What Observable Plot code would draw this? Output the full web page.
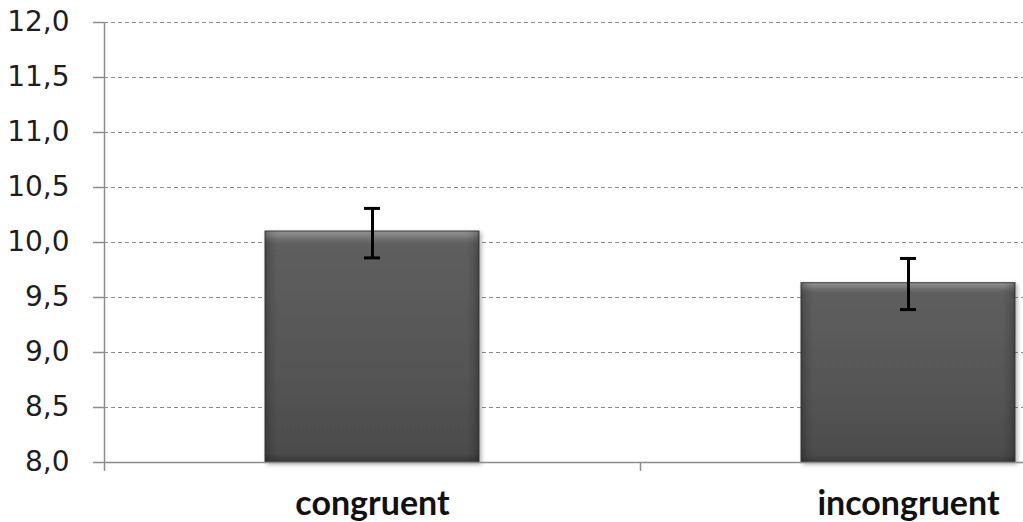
<!DOCTYPE html>
<html><head><meta charset="utf-8">
<script src="https://cdn.jsdelivr.net/npm/d3@7"></script>
<script src="https://cdn.jsdelivr.net/npm/@observablehq/plot@0.6"></script>
<style>
html,body{margin:0;padding:0;background:#fff;overflow:hidden;width:1023px;height:522px;}
</style>
</head><body>
<div id="chart"></div>
<script>
const categories = ["congruent", "incongruent"];
const means = [10.10, 9.63];
const errLow = [9.86, 9.39];
const errHigh = [10.31, 9.855];
const yTicks = [8.0, 8.5, 9.0, 9.5, 10.0, 10.5, 11.0, 11.5, 12.0];

const data = categories.map((c, i) => ({cat: c, mean: means[i], lo: errLow[i], hi: errHigh[i]}));
const fmt = d => d3.format(".1f")(d).replace(".", ",");

const chart = Plot.plot({
  width: 1023,
  height: 522,
  marginLeft: 104,
  marginTop: 22,
  marginBottom: 60,
  marginRight: 0,
  style: {background: "#fff", overflow: "hidden"},
  x: {domain: categories, range: [104, 1176], paddingInner: 0.6, paddingOuter: 0.3, axis: null},
  y: {domain: [8, 12], axis: null},
  marks: [
    Plot.ruleY(yTicks.filter(d => d > 8), {stroke: "#8c8c8c", strokeWidth: 1, strokeDasharray: "4,3"}),
    Plot.barY(data, {x: "cat", y1: 8, y2: "mean", fill: "url(#barGrad)", stroke: "#3c3c3c", strokeWidth: 1}),
    Plot.barY(data, {x: "cat", y1: 8, y2: "mean", fill: "url(#sideGrad)"}),
    Plot.ruleY([8], {stroke: "#8c8c8c", strokeWidth: 1.5}),
    Plot.ruleX(categories, {x: d => d, dx: -268, y1: 8, y2: 7.92, stroke: "#8c8c8c", strokeWidth: 1.5}),
    Plot.ruleX([categories[0]], {x: d => d, dx: -268, y1: 12, y2: 8, stroke: "#8c8c8c", strokeWidth: 1.5}),
    Plot.ruleX(data, {x: "cat", y1: "lo", y2: "hi", stroke: "#000", strokeWidth: 3}),
    Plot.tickY(data, {x: "cat", y: "lo", stroke: "#000", strokeWidth: 3, insetLeft: 99, insetRight: 99}),
    Plot.tickY(data, {x: "cat", y: "hi", stroke: "#000", strokeWidth: 3, insetLeft: 99, insetRight: 99}),
    Plot.axisY(yTicks, {tickSize: 11, tickPadding: 24, tickFormat: fmt, stroke: "#8c8c8c", strokeWidth: 1.5,
      fontSize: 28, fontFamily: "DejaVu Sans", fill: "#1e1e1e", label: null}),
    Plot.axisX(categories, {tickSize: 0, tickPadding: 28, fontSize: 34, fontWeight: "bold", fontFamily: "Lato", fill: "#111", label: null})
  ]
});

const ns = "http://www.w3.org/2000/svg";
const defs = document.createElementNS(ns, "defs");
defs.innerHTML = `
  <linearGradient id="barGrad" x1="0" y1="0" x2="0" y2="1">
    <stop offset="0" stop-color="#909090"/>
    <stop offset="0.015" stop-color="#858585"/>
    <stop offset="0.04" stop-color="#6a6a6a"/>
    <stop offset="0.06" stop-color="#5e5e5e"/>
    <stop offset="0.5" stop-color="#575757"/>
    <stop offset="0.96" stop-color="#4c4c4c"/>
    <stop offset="1" stop-color="#383838"/>
  </linearGradient>
  <linearGradient id="sideGrad" x1="0" y1="0" x2="1" y2="0">
    <stop offset="0" stop-color="#000" stop-opacity="0.25"/>
    <stop offset="0.03" stop-color="#000" stop-opacity="0.08"/>
    <stop offset="0.06" stop-color="#000" stop-opacity="0"/>
    <stop offset="0.94" stop-color="#000" stop-opacity="0"/>
    <stop offset="0.97" stop-color="#000" stop-opacity="0.08"/>
    <stop offset="1" stop-color="#000" stop-opacity="0.25"/>
  </linearGradient>
  <filter id="shadow" x="-5%" y="-5%" width="115%" height="115%">
    <feDropShadow dx="2" dy="2" stdDeviation="2" flood-color="#000" flood-opacity="0.3"/>
  </filter>`;
chart.insertBefore(defs, chart.firstChild);
const barGroups = chart.querySelectorAll("g[aria-label='bar']");
if (barGroups[0]) barGroups[0].querySelectorAll("rect").forEach(r => r.setAttribute("filter", "url(#shadow)"));
document.getElementById("chart").appendChild(chart);
</script>
</body></html>
